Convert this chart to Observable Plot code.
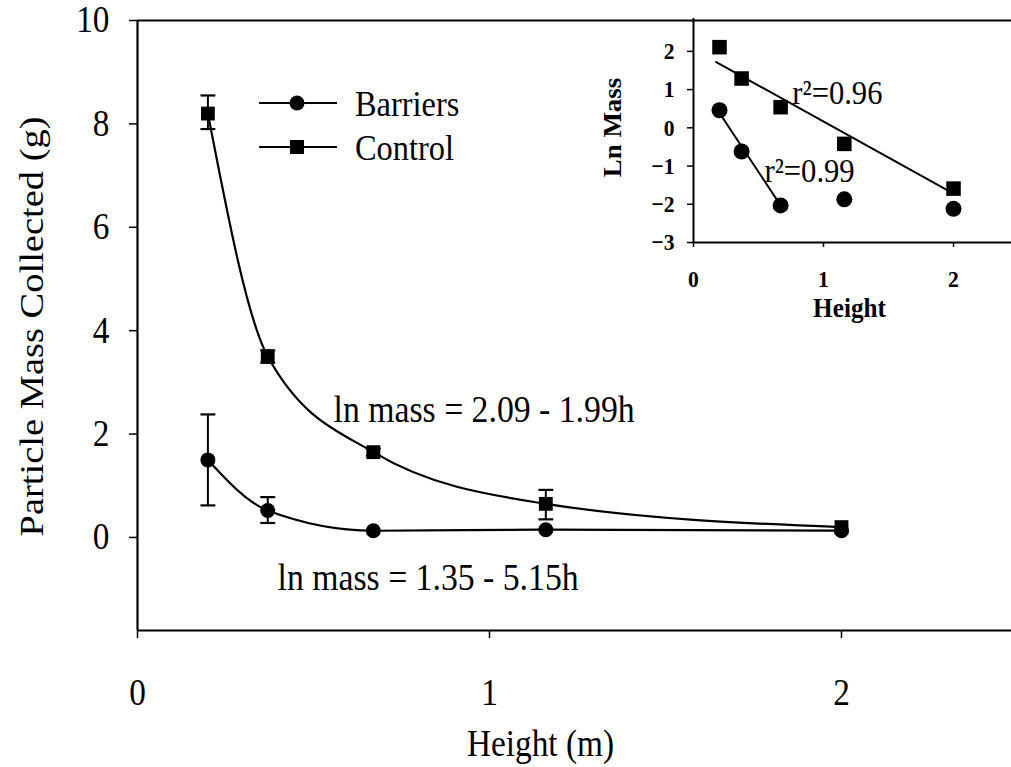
<!DOCTYPE html>
<html>
<head>
<meta charset="utf-8">
<script src="https://cdn.jsdelivr.net/npm/d3@7"></script>
<script src="https://cdn.jsdelivr.net/npm/@observablehq/plot@0.6"></script>
<style>
  html, body { margin: 0; padding: 0; background: white; }
  #wrap { position: relative; width: 1011px; height: 767px; overflow: hidden; background: white; }
  #wrap svg { position: absolute; }
  #wrap svg, #wrap svg text { font-family: "Liberation Serif", "Times New Roman", serif !important; }
</style>
</head>
<body>
<div id="wrap"></div>
<script>
// ---------- data ----------
const heights = [0.2, 0.37, 0.67, 1.16, 2.0];
const controlMass = [8.2, 3.5, 1.65, 0.65, 0.2];
const controlLow  = [7.9, 3.38, 1.58, 0.35, 0.2];
const controlHigh = [8.55, 3.62, 1.72, 0.92, 0.2];
const barrierMass = [1.5, 0.52, 0.13, 0.15, 0.13];
const barrierLow  = [0.62, 0.28, 0.13, 0.15, 0.13];
const barrierHigh = [2.38, 0.78, 0.13, 0.15, 0.13];

const controlLn = [2.11, 1.29, 0.54, -0.42, -1.59];
const barrierLn = [0.46, -0.62, -2.03, -1.87, -2.12];
const controlFitX = [0.175, 2.0];
const controlFitY = [1.72, -1.72];
const barrierFitX = [0.19, 0.67];
const barrierFitY = [0.44, -2.03];

const mainXTicks = [0, 1, 2];
const mainYTicks = [0, 2, 4, 6, 8, 10];
const insetXTicks = [0, 1, 2];
const insetYTicks = [-3, -2, -1, 0, 1, 2];

const seriesNames = ["Barriers", "Control"];
const mainNotes = [
  {x: 0.557, y: 2.46, text: "ln mass = 2.09 - 1.99h"},
  {x: 0.398, y: -0.79, text: "ln mass = 1.35 - 5.15h"}
];
const insetNotes = [
  {x: 0.76, y: 0.9, text: "r\u00B2=0.96"},
  {x: 0.546, y: -1.12, text: "r\u00B2=0.99"}
];

// ---------- tables ----------
const mainData = heights.flatMap((h, i) => [
  {series: "Control", h, m: controlMass[i], lo: controlLow[i], hi: controlHigh[i]},
  {series: "Barriers", h, m: barrierMass[i], lo: barrierLow[i], hi: barrierHigh[i]}
]);
const ctrl = mainData.filter(d => d.series === "Control");
const barr = mainData.filter(d => d.series === "Barriers");
const bars = mainData.filter(d => d.hi > d.lo);
const insetCtrl = heights.map((h, i) => ({h, v: controlLn[i]}));
const insetBarr = heights.map((h, i) => ({h, v: barrierLn[i]}));
const ctrlFit = controlFitX.map((x, i) => ({x, y: controlFitY[i]}));
const barrFit = barrierFitX.map((x, i) => ({x, y: barrierFitY[i]}));

const cap = { draw(ctx, size) { const w = Math.sqrt(size); ctx.moveTo(-w, 0); ctx.lineTo(w, 0); } };
const FONT = "Liberation Serif";
const intFmt = d3.format("d");
const SQ = 0.9; // the scanned lettering is narrow

function squeeze(svg, sx) {
  svg.querySelectorAll("text").forEach(t => {
    const tr = t.getAttribute("transform");
    if (tr && tr.includes("translate")) {
      t.setAttribute("transform", tr + (tr.includes("rotate") ? ` scale(1,${sx})` : ` scale(${sx},1)`));
    }
  });
}

// ---------- main chart ----------
const main = Plot.plot({
  width: 1011, height: 767,
  marginLeft: 137, marginRight: 0, marginTop: 20, marginBottom: 137,
  x: {domain: [0, 2.483]},
  y: {domain: [-1.8, 10]},
  style: {fontFamily: FONT, background: "white", color: "black", overflow: "visible"},
  marks: [
    Plot.axisX({ticks: mainXTicks, tickFormat: intFmt, tickSize: 8, tickPadding: 40, fontSize: 37, label: null, strokeWidth: 1.5}),
    Plot.axisY({ticks: mainYTicks, tickFormat: intFmt, tickSize: 8, tickPadding: 20, fontSize: 37, label: null, strokeWidth: 1.5}),
    Plot.ruleX([0], {stroke: "black", strokeWidth: 2.2}),
    Plot.ruleY([-1.8], {stroke: "black", strokeWidth: 2.2}),
    Plot.ruleY([10], {stroke: "black", strokeWidth: 2}),
    Plot.text(["Height (m)"], {frameAnchor: "bottom", dx: -34, dy: 114, fontSize: 37, textAnchor: "middle", lineAnchor: "middle"}),
    Plot.text(["Particle Mass Collected (g)"], {frameAnchor: "left", rotate: -90, dx: -106, dy: 1, fontSize: 38.5, textAnchor: "middle", lineAnchor: "middle"}),
    // curves
    Plot.line(ctrl, {x: "h", y: "m", curve: "monotone-x", stroke: "black", strokeWidth: 2.2}),
    Plot.line(barr, {x: "h", y: "m", curve: "monotone-x", stroke: "black", strokeWidth: 2.2}),
    // error bars
    Plot.ruleX(bars, {x: "h", y1: "lo", y2: "hi", stroke: "black", strokeWidth: 2}),
    Plot.dot(bars, {x: "h", y: "lo", symbol: cap, r: 4.2, stroke: "black", strokeWidth: 2.2, fill: "none"}),
    Plot.dot(bars, {x: "h", y: "hi", symbol: cap, r: 4.2, stroke: "black", strokeWidth: 2.2, fill: "none"}),
    // markers
    Plot.dot(ctrl, {x: "h", y: "m", symbol: "square", r: 7.8, fill: "black", stroke: "none"}),
    Plot.dot(barr, {x: "h", y: "m", symbol: "circle", r: 7.5, fill: "black", stroke: "none"}),
    // annotations
    Plot.text(mainNotes, {x: "x", y: "y", text: "text", textAnchor: "start", lineAnchor: "middle", fontSize: 37.5})
  ]
});
main.style.left = "0px";
main.style.top = "0px";
squeeze(main, SQ);
document.getElementById("wrap").appendChild(main);

// ---------- legend (overlay) ----------
const legend = d3.create("svg")
  .attr("width", 260).attr("height", 90)
  .style("left", "250px").style("top", "80px")
  .attr("font-family", FONT);
seriesNames.forEach((name, i) => {
  const g = legend.append("g").attr("transform", `translate(0, ${23 + i * 44})`);
  g.append("line").attr("x1", 9).attr("x2", 87).attr("y1", 0).attr("y2", 0).attr("stroke", "black").attr("stroke-width", 2.2);
  if (name === "Barriers") g.append("circle").attr("cx", 47).attr("cy", 0).attr("r", 7.5).attr("fill", "black");
  else g.append("rect").attr("x", 40).attr("y", -7).attr("width", 14).attr("height", 14).attr("fill", "black");
  g.append("text").attr("transform", `translate(105,0) scale(${SQ},1)`).attr("dy", "0.35em").attr("font-size", 36).text(name);
});
document.getElementById("wrap").appendChild(legend.node());

// ---------- inset ----------
const inset = Plot.plot({
  width: 411, height: 330,
  marginLeft: 93, marginRight: 0, marginTop: 18, marginBottom: 88,
  x: {domain: [0, 2.446]},
  y: {domain: [-3, 2.86]},
  style: {fontFamily: FONT, background: "transparent", color: "black", overflow: "visible"},
  marks: [
    Plot.axisX({ticks: insetXTicks, tickFormat: intFmt, tickSize: 5, tickPadding: 22, fontSize: 24, fontWeight: "bold", label: null, strokeWidth: 1.5}),
    Plot.axisY({ticks: insetYTicks, tickFormat: intFmt, tickSize: 6, tickPadding: 13, fontSize: 24, fontWeight: "bold", label: null, strokeWidth: 1.5}),
    Plot.ruleX([0], {stroke: "black", strokeWidth: 2}),
    Plot.ruleY([-3], {stroke: "black", strokeWidth: 2}),
    Plot.text(["Ln Mass"], {frameAnchor: "left", rotate: -90, dx: -80, dy: -3, fontSize: 27, fontWeight: "bold", textAnchor: "middle", lineAnchor: "middle"}),
    Plot.text(["Height"], {frameAnchor: "bottom", dx: -3, dy: 66, fontSize: 28, fontWeight: "bold", textAnchor: "middle", lineAnchor: "middle"}),
    Plot.line(ctrlFit, {x: "x", y: "y", stroke: "black", strokeWidth: 2}),
    Plot.line(barrFit, {x: "x", y: "y", stroke: "black", strokeWidth: 2}),
    Plot.dot(insetCtrl, {x: "h", y: "v", symbol: "square", r: 8.2, fill: "black", stroke: "none"}),
    Plot.dot(insetBarr, {x: "h", y: "v", symbol: "circle", r: 8, fill: "black", stroke: "none"}),
    Plot.text(insetNotes, {x: "x", y: "y", text: "text", textAnchor: "start", lineAnchor: "middle", fontSize: 34})
  ]
});
inset.style.left = "600px";
inset.style.top = "0px";
squeeze(inset, SQ);
document.getElementById("wrap").appendChild(inset);
</script>
</body>
</html>
